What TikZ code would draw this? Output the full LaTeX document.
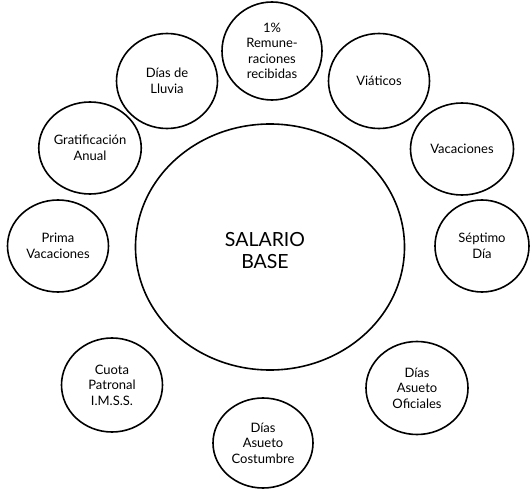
\documentclass[tikz,border=0pt]{standalone}
\usepackage{fontspec}
\setmainfont{Lato}
\usetikzlibrary{shapes.geometric}
\begin{document}
\begin{tikzpicture}[x=1pt,y=-1pt,
  item/.style={draw, line width=1.6pt, ellipse, inner sep=0pt, align=center,
    font=\fontsize{13}{15.5}\selectfont},
  centre/.style={draw, line width=1.6pt, ellipse, inner sep=0pt}]
\useasboundingbox (0,0) rectangle (532,489);
\node[centre, minimum width=269pt, minimum height=246pt] (base) at (270,247) {};
\node[font=\fontsize{19.5}{22}\selectfont, align=center, inner sep=0pt] (baselabel) at (265,251) {SALARIO\\BASE};
\node[item, minimum width=101pt, minimum height=95pt] (rain) at (167,81) {Días de\\Lluvia};
\node[item, minimum width=100pt, minimum height=98pt] (rem) at (272,51) {1\%\\Remune-\\raciones\\recibidas};
\node[item, minimum width=101pt, minimum height=95pt] (viat) at (379,81) {Viáticos};
\node[item, minimum width=103pt, minimum height=92pt] (vac) at (462,149) {Vacaciones};
\node[item, minimum width=94pt, minimum height=92pt] (sept) at (482,246) {Séptimo\\Día};
\node[item, minimum width=101pt, minimum height=92pt] (grat) at (90,148) {Gratificación\\Anual};
\node[item, minimum width=101pt, minimum height=92pt] (prima) at (58,246) {Prima\\Vacaciones};
\node[item, minimum width=101pt, minimum height=94pt] (cuota) at (112,385) {Cuota\\Patronal\\I.M.S.S.};
\node[item, minimum width=100pt, minimum height=90pt] (cost) at (263,443) {Días\\Asueto\\Costumbre};
\node[item, minimum width=102pt, minimum height=93pt] (ofic) at (417,388) {Días\\Asueto\\Oficiales};
\end{tikzpicture}
\end{document}
